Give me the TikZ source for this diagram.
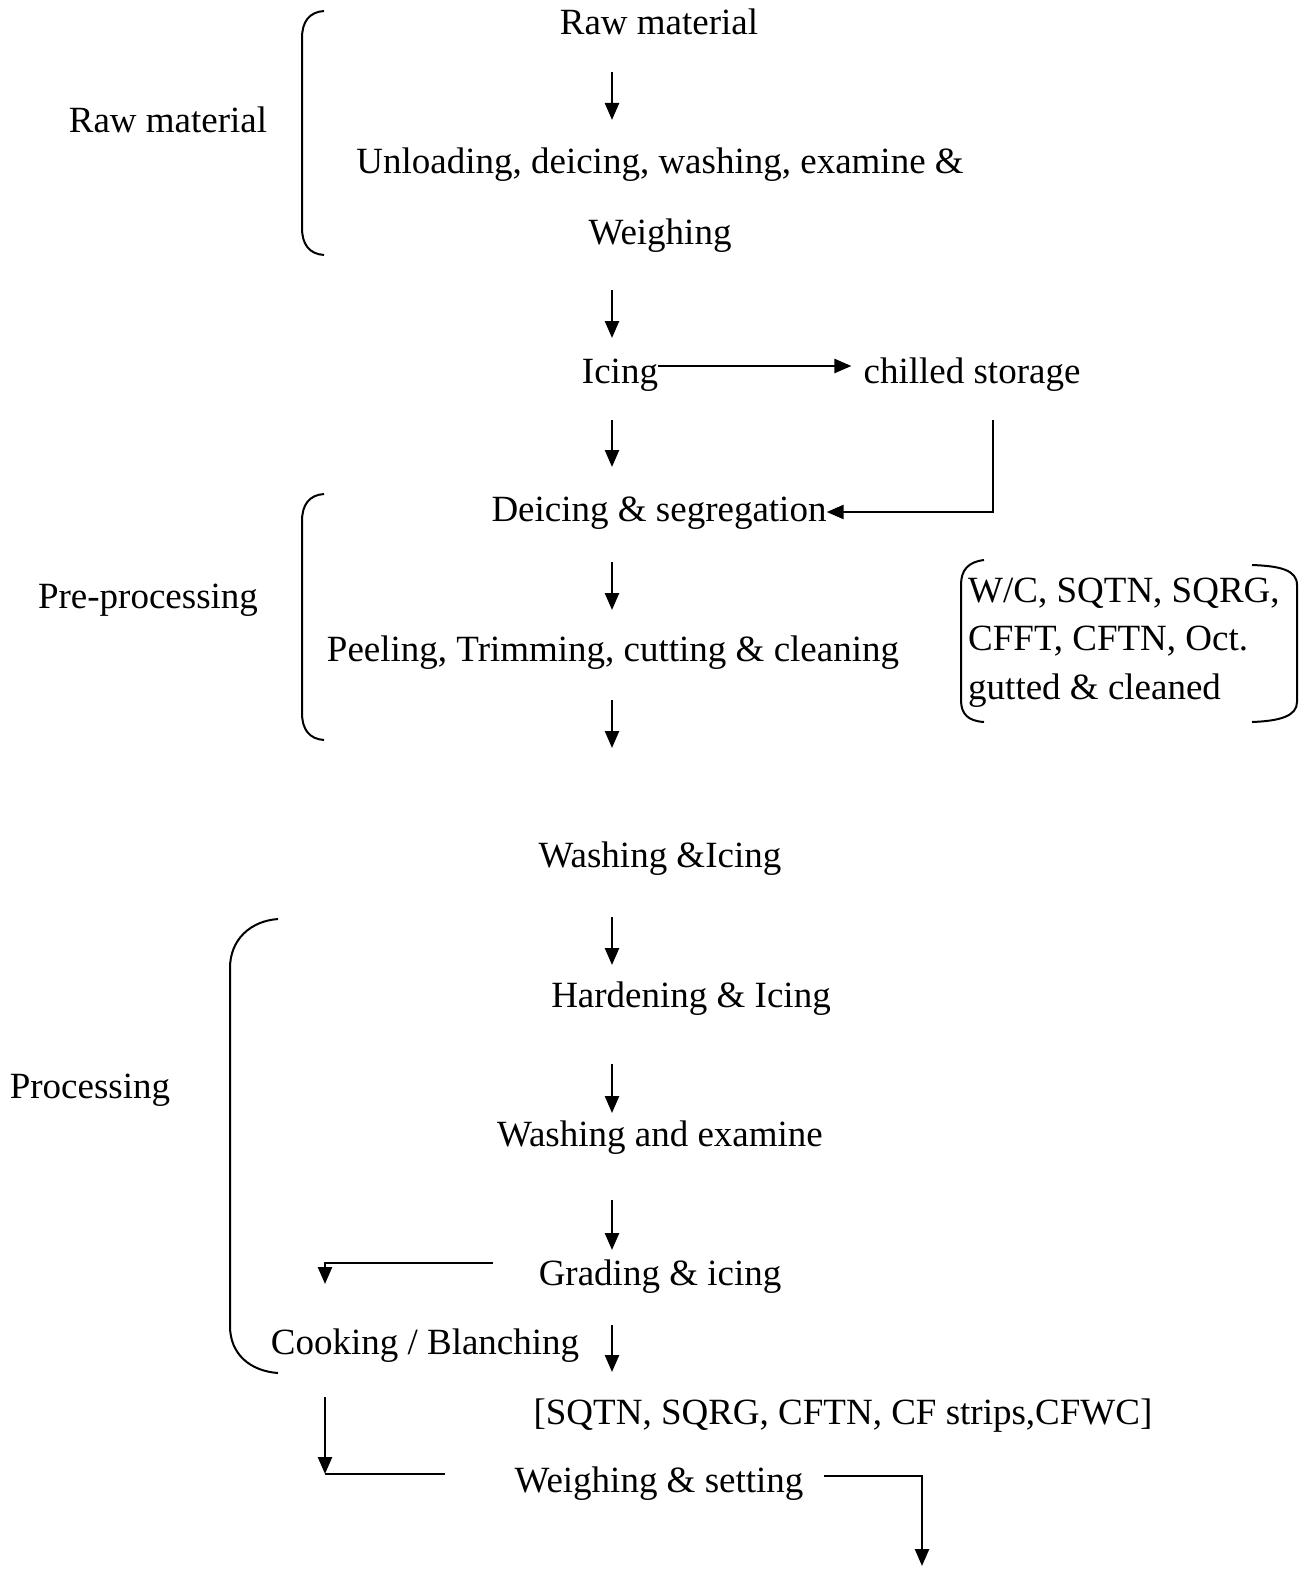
\documentclass[tikz,border=0pt]{standalone}
\usepackage{fontspec}
\setmainfont{Liberation Serif}
\usetikzlibrary{arrows.meta}
\begin{document}
\begin{tikzpicture}[x=1pt,y=-1pt,
  lbl/.style={inner sep=0pt,anchor=base,font=\fontsize{37}{44}\selectfont},
  lbll/.style={inner sep=0pt,anchor=base west,font=\fontsize{37}{44}\selectfont},
  ln/.style={line width=2.5pt},
  arr/.style={line width=2.5pt,-{Triangle[width=14pt,length=17pt]}},
  brk/.style={line width=2pt}]
\useasboundingbox (0,0) rectangle (1307,1573);
% process steps
\node[lbl] (raw)   at (659,35)   {Raw material};
\node[lbl] (unl)   at (660,174)  {Unloading, deicing, washing, examine \&};
\node[lbl] (wgh)   at (660,244)  {Weighing};
\node[lbl] (ice)   at (620,383)  {Icing};
\node[lbl] (chl)   at (972,383)  {chilled storage};
\node[lbl] (dei)   at (659,521)  {Deicing \& segregation};
\node[lbl] (pee)   at (613,661)  {Peeling, Trimming, cutting \& cleaning};
\node[lbl] (was)   at (660,867)  {Washing \&Icing};
\node[lbl] (har)   at (691,1007) {Hardening \& Icing};
\node[lbl] (wex)   at (660,1146) {Washing and examine};
\node[lbl] (grd)   at (660,1285) {Grading \& icing};
\node[lbl] (coo)   at (425,1354) {Cooking / Blanching};
\node[lbl] (spc)   at (843,1424) {[SQTN, SQRG, CFTN, CF strips,CFWC]};
\node[lbl] (wst)   at (659,1492) {Weighing \& setting};
% stage labels
\node[lbl] (sraw)  at (168,133)  {Raw material};
\node[lbl] (spre)  at (148,608)  {Pre-processing};
\node[lbl] (spro)  at (90,1098)  {Processing};
% species list
\node[lbll] (sp1) at (968,602) {W/C, SQTN, SQRG,};
\node[lbll] (sp2) at (968,650) {CFFT, CFTN, Oct.};
\node[lbll] (sp3) at (968,699) {gutted \& cleaned};

% arrow end points on the main line
\foreach \n/\a/\b in {a1/72/120, a2/290/338, a3/420/467, a4/562/610, a5/700/748,
                      a6/917/965, a7/1064/1113, a8/1200/1250, a9/1325/1372}{
  \coordinate (\n s) at (612,\a);
  \coordinate (\n e) at (612,\b);
  \draw[arr] (\n s) -- (\n e);
}
% side routes
\draw[arr] (ice.east |- 0,366) -- ([xshift=-12pt]chl.west |- 0,366);
\coordinate (cs1) at (993,420);
\coordinate (cs2) at (993,512);
\draw[arr] (cs1) -- (cs2) -- (dei.east |- cs2);
\coordinate (g1) at (493,1263);
\coordinate (g2) at (325,1263);
\coordinate (g3) at (325,1284);
\draw[arr] (g1) -- (g2) -- (g3);
\coordinate (c1) at (325,1397);
\coordinate (c2) at (325,1474);
\coordinate (c3) at (445,1474);
\draw[arr] (c1) -- (c2);
\draw[ln] (c2) -- (c3);
\coordinate (w1) at (922,1476);
\coordinate (w2) at (922,1566);
\draw[arr] ([xshift=20pt]wst.east |- w1) -- (w1) -- (w2);

% stage brackets
\draw[brk] (324,11) .. controls (309,12) and (302,22) .. (302,38) -- (302,228)
  .. controls (302,244) and (309,254) .. (324,255);
\draw[brk] (324,494) .. controls (309,495) and (302,505) .. (302,521) -- (302,713)
  .. controls (302,729) and (309,739) .. (324,740);
\draw[brk] (278,919) .. controls (250,921) and (230,940) .. (230,968) -- (230,1326)
  .. controls (230,1354) and (250,1371) .. (278,1373);
% parentheses around the species list
\draw[brk] (984,560) .. controls (968,562) and (961,570) .. (961,585) -- (961,700)
  .. controls (961,714) and (968,721) .. (984,722);
\draw[brk] (1252,565) .. controls (1280,566) and (1297,570) .. (1297,585) -- (1297,702)
  .. controls (1297,716) and (1280,721) .. (1252,722);
\end{tikzpicture}
\end{document}
